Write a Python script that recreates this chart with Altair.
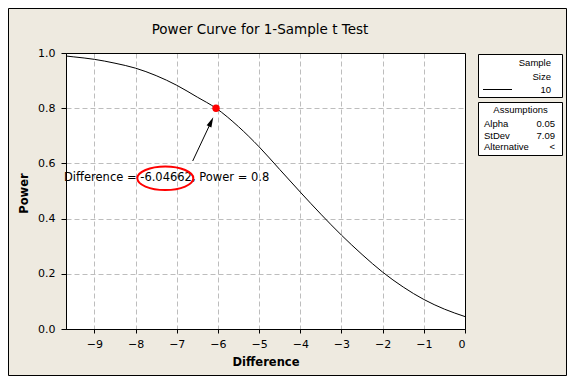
import altair as alt
import pandas as pd

# ---- data ----
difference = [-9.69, -9.5, -9.0, -8.5, -8.0, -7.5, -7.0, -6.5, -6.04662, -5.5, -5.0,
              -4.5, -4.0, -3.5, -3.0, -2.5, -2.0, -1.5, -1.0, -0.5, 0.0]
power = [0.989, 0.986, 0.977, 0.963, 0.945, 0.918, 0.883, 0.840, 0.800, 0.733, 0.660,
         0.578, 0.496, 0.416, 0.340, 0.270, 0.206, 0.152, 0.107, 0.072, 0.045]
x_ticks = [-9, -8, -7, -6, -5, -4, -3, -2, -1, 0]
y_ticks = [0.0, 0.2, 0.4, 0.6, 0.8, 1.0]
target_diff = [-6.04662]
target_power = [0.8]
sample_size = "10"
assumption_names = ["Alpha", "StDev", "Alternative"]
assumption_values = ["0.05", "7.09", "<"]
title_text = "Power Curve for 1-Sample t Test"

curve = pd.DataFrame({"Difference": difference, "Power": power})
target = pd.DataFrame({"Difference": target_diff, "Power": target_power})
one = alt.Data(values=[{"k": 1}])

W, H = 399, 276
PL, PT, PR, PB = 58, 45, 102, 47
BG = "#EEEAE0"

xs = alt.Scale(domain=[-9.69, 0], nice=False, zero=False)
ys = alt.Scale(domain=[0, 1], nice=False, zero=False)

base = alt.Chart(curve)

line = base.mark_line(color="black", strokeWidth=1, interpolate="monotone").encode(
    x=alt.X("Difference:Q", scale=xs,
            axis=alt.Axis(values=x_ticks, format="d", title="Difference",
                          titleY=36, titleBaseline="alphabetic",
                          tickSize=4, labelPadding=5)),
    y=alt.Y("Power:Q", scale=ys,
            axis=alt.Axis(values=y_ticks, format=".1f", title="Power",
                          titleX=-42, titleY=140, titleBaseline="middle",
                          tickSize=5, labelPadding=6)),
)

point = alt.Chart(target).mark_point(filled=True, color="#FF0000", size=55, opacity=1).encode(
    x=alt.X("Difference:Q", scale=xs), y=alt.Y("Power:Q", scale=ys)
)


def txt(s, x, y, align="left", size=9.5, font="Liberation Sans", weight="normal",
        baseline="middle", color="black"):
    return alt.Chart(one).mark_text(
        text=s, align=align, baseline=baseline, fontSize=size, font=font,
        fontWeight=weight, color=color
    ).encode(x=alt.value(x), y=alt.value(y))


def rect(x, x2, y, y2, fill_opacity=1.0, fill="white"):
    return alt.Chart(one).mark_rect(
        fill=fill, fillOpacity=fill_opacity, stroke="black", strokeWidth=1
    ).encode(x=alt.value(x), x2=alt.value(x2), y=alt.value(y), y2=alt.value(y2))


annotation = txt(f"Difference = {target_diff[0]}, Power = {target_power[0]}",
                 -2, 124.5, size=11.5, font="DejaVu Sans")

ellipse = alt.Chart(one).mark_point(
    shape="M-1,0 A1,0.418 0 1,1 1,0 A1,0.418 0 1,1 -1,0 Z",
    size=3136, stroke="#FF0000", strokeWidth=2, filled=False, opacity=1
).encode(x=alt.value(99.3), y=alt.value(125.3))

arrow_line = alt.Chart(one).mark_rule(color="black", strokeWidth=1).encode(
    x=alt.value(126.7), y=alt.value(108), x2=alt.value(144.6), y2=alt.value(70)
)
arrow_head = alt.Chart(one).mark_point(
    shape="M0,-1 L-0.42,0.6 L0.42,0.6 Z", size=156, angle=25,
    filled=True, color="black", opacity=1
).encode(x=alt.value(144.6), y=alt.value(70))

title = txt(title_text, 194, -19.5, align="center", size=13.5,
            font="DejaVu Sans", baseline="alphabetic")

# crisp plot frame drawn over the grid
frame = rect(0.5, W + 0.5, 0.5, H + 0.5, fill_opacity=0)

# legend boxes (right side)
bx0, bx1 = 412.5, 496.5
box1 = rect(bx0, bx1, 1.5, 44.5)
box2 = rect(bx0, bx1, 49.5, 102.5)
leg = [
    txt("Sample", 485, 9.5, align="right"),
    txt("Size", 485, 24, align="right"),
    txt(sample_size, 485, 37, align="right"),
    alt.Chart(one).mark_rule(color="black", strokeWidth=1).encode(
        x=alt.value(417), x2=alt.value(446), y=alt.value(36.5)),
    txt("Assumptions", (bx0 + bx1) / 2, 56.5, align="center"),
]
for i, (n, v) in enumerate(zip(assumption_names, assumption_values)):
    yy = 71 + i * 11.5
    leg.append(txt(n, 418, yy, align="left"))
    leg.append(txt(v, 489, yy, align="right"))

border = rect(-57.5, 500.5, -44.5, 322.5, fill_opacity=0, fill=BG)

chart = alt.layer(
    line, frame, arrow_line, arrow_head, point, annotation, ellipse, title,
    box1, box2, *leg, border
).properties(
    width=W, height=H,
    autosize=alt.AutoSizeParams(type="none"),
    padding={"left": PL, "top": PT, "right": PR, "bottom": PB},
    background=BG,
).configure_view(
    fill="white", stroke="transparent"
).configure_axis(
    labelFont="DejaVu Sans", labelFontSize=11, labelColor="black",
    titleFont="DejaVu Sans", titleFontSize=11.5, titleFontWeight="bold", titleColor="black",
    domainColor="black", tickColor="black", domainWidth=1, tickWidth=1,
    gridColor="#BDBDBD", gridDash=[5, 3], gridWidth=1, grid=True,
)

chart.save("out.html", embed_options={"renderer": "svg", "actions": False})
